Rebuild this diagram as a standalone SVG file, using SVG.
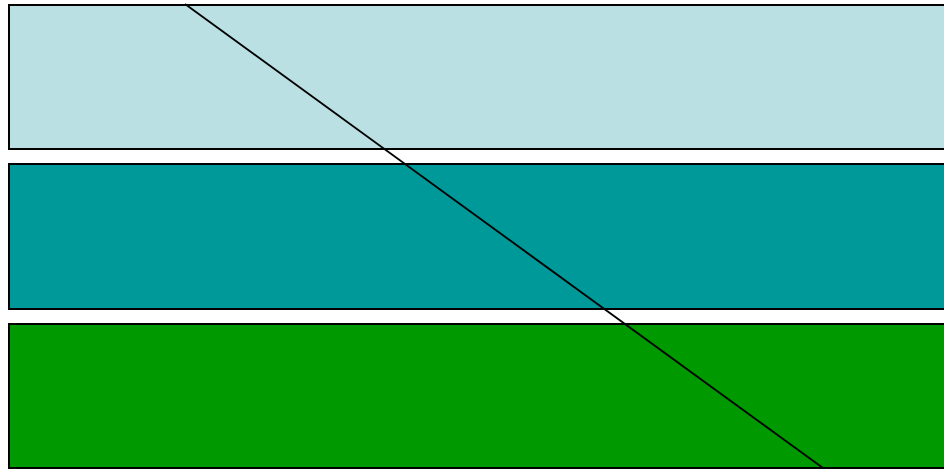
<svg xmlns="http://www.w3.org/2000/svg" width="944" height="469" viewBox="0 0 944 469">
<style>
.band{stroke:#000;stroke-width:2}
.conn{stroke:#000;stroke-width:1.9;fill:none}
</style>
<rect width="944" height="469" fill="#fff"/>
<g id="band1"><rect class="band" x="9" y="5" width="940" height="144" fill="#BBE0E3"/></g>
<g id="band2"><rect class="band" x="9" y="164" width="940" height="145" fill="#009999"/></g>
<g id="band3"><rect class="band" x="9" y="324" width="940" height="144" fill="#009900"/></g>
<g id="connectors"><line class="conn" x1="185" y1="4" x2="823" y2="468"/></g>
</svg>
